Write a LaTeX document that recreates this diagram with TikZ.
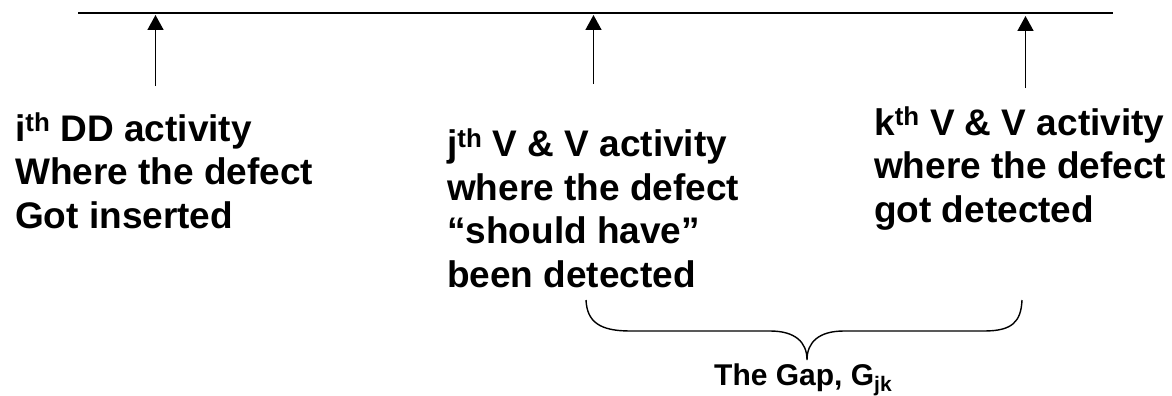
\documentclass[tikz,border=0pt]{standalone}
\usepackage{fontspec}
\setmainfont{Liberation Sans}
\usetikzlibrary{arrows.meta}
\tikzset{
  lbl/.style={inner sep=0pt, anchor=base west, align=left, font=\fontsize{37}{43.5}\selectfont\bfseries},
  gaplbl/.style={inner sep=0pt, anchor=base west, font=\fontsize{30}{36}\selectfont\bfseries},
  pointer/.style={line width=1.6pt, -{Triangle[length=15pt,width=16pt]}},
  axis/.style={line width=1.8pt},
  bracestyle/.style={line width=1.4pt}
}
\begin{document}
\begin{tikzpicture}[x=1pt,y=-1pt]
\useasboundingbox (0,0) rectangle (1172,396);
\coordinate (L0) at (78,13);
\coordinate (L1) at (1113,13);
\draw[axis] (L0) -- (L1);
% arrows
\coordinate (ib) at (155.5,86);
\coordinate (it) at (155.5,15);
\coordinate (jb) at (593.5,84);
\coordinate (jt) at (593.5,15);
\coordinate (kb) at (1025.5,88);
\coordinate (kt) at (1025.5,16);
\draw[pointer] (ib) -- (it);
\draw[pointer] (jb) -- (jt);
\draw[pointer] (kb) -- (kt);
% labels (anchor = baseline of last line)
\node[lbl] (ti) at (15,228) {i\textsuperscript{th} DD activity\\Where the defect\\Got inserted};
\node[lbl] (tj) at (447,287.2) {j\textsuperscript{th} V \& V activity\\where the defect\\``should have''\\been detected};
\node[lbl] (tk) at (874,222) {k\textsuperscript{th} V \& V activity\\where the defect\\got detected};
% brace
\coordinate (bl) at (586,300);
\coordinate (bm) at (807,360);
\coordinate (br) at (1022,300);
\draw[bracestyle] (bl) .. controls (587,322) and (600,331) .. (630,331)
  -- (770,331) .. controls (795,331) and (807,342) .. (bm)
  .. controls (807,342) and (819,331) .. (844,331)
  -- (984,331) .. controls (1012,331) and (1021,322) .. (br);
\node[gaplbl] (gap) at (714,385) {The Gap, G\textsubscript{jk}};
\end{tikzpicture}
\end{document}
